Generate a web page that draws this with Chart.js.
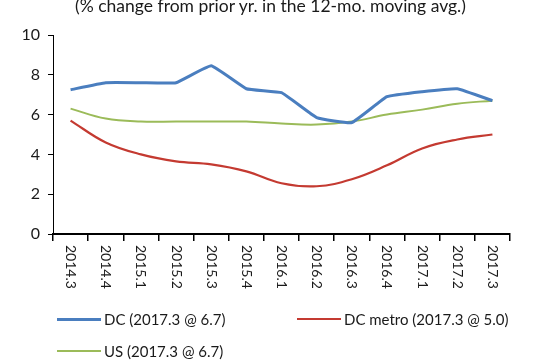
<!DOCTYPE html>
<html>
<head>
<meta charset="utf-8">
<script src="https://cdn.jsdelivr.net/npm/chart.js@4.4.1/dist/chart.umd.min.js"></script>
<style>
  html, body { margin: 0; padding: 0; background: #fff; }
  #wrap { position: relative; width: 533px; height: 362px; overflow: hidden; font-family: Lato, "Open Sans", sans-serif; color: #1a1a1a; }
  #chart { position: absolute; left: 0; top: 0; }
  .title { position: absolute; left: 0; width: 541px; top: -5px; text-align: center; font-size: 17.5px; white-space: nowrap; }
  .legend-item { position: absolute; font-size: 15px; white-space: nowrap; display: flex; align-items: center; }
  .legend-item span.swatch { display: inline-block; width: 44px; margin-right: 3px; }
</style>
</head>
<body>
<div id="wrap">
  <canvas id="chart" width="533" height="362"></canvas>
  <div class="title">(% change from prior yr. in the 12-mo. moving avg.)</div>
  <div id="legend"></div>
</div>
<script>
// quarters shown along the bottom
const quarters = ['2014.3', '2014.4', '2015.1', '2015.2', '2015.3', '2015.4', '2016.1',
  '2016.2', '2016.3', '2016.4', '2017.1', '2017.2', '2017.3'];

const dcValues = [7.25, 7.6, 7.6, 7.6, 8.45, 7.3, 7.1, 5.85, 5.6, 6.9, 7.15, 7.3, 6.7];
const metroValues = [5.7, 4.6, 4.0, 3.65, 3.5, 3.15, 2.55, 2.4, 2.75, 3.45, 4.3, 4.75, 5.0];
const usValues = [6.3, 5.8, 5.65, 5.65, 5.65, 5.65, 5.55, 5.5, 5.65, 6.0, 6.25, 6.55, 6.7];

const seriesNames = ['DC (2017.3 @ 6.7)', 'DC metro (2017.3 @ 5.0)', 'US (2017.3 @ 6.7)'];
const yTicks = [0, 2, 4, 6, 8, 10];

const colors = ['#4a7ebf', '#c43a31', '#9bbb59'];

// legend laid out in two columns
const legendSpots = [
  { left: 57, top: 310 },
  { left: 297, top: 310 },
  { left: 57, top: 342 },
];
const legendEl = document.getElementById('legend');
seriesNames.forEach((name, i) => {
  const item = document.createElement('div');
  item.className = 'legend-item';
  item.style.left = legendSpots[i].left + 'px';
  item.style.top = legendSpots[i].top + 'px';
  const sw = document.createElement('span');
  sw.className = 'swatch';
  sw.style.borderTop = (i === 0 ? 3 : 2) + 'px solid ' + colors[i];
  item.appendChild(sw);
  item.appendChild(document.createTextNode(name));
  legendEl.appendChild(item);
});

// x labels read top-to-bottom, so they're drawn by hand
const verticalLabels = {
  id: 'verticalLabels',
  afterDraw(chart) {
    const ctx = chart.ctx;
    const x = chart.scales.x;
    ctx.save();
    ctx.font = '14px Lato, "Open Sans", sans-serif';
    ctx.fillStyle = '#1a1a1a';
    ctx.textAlign = 'left';
    ctx.textBaseline = 'middle';
    quarters.forEach((q, i) => {
      ctx.save();
      ctx.translate(x.getPixelForValue(i), x.top + 11);
      ctx.rotate(Math.PI / 2);
      ctx.fillText(q, 0, 0);
      ctx.restore();
    });
    ctx.restore();
  }
};

new Chart(document.getElementById('chart'), {
  type: 'line',
  data: {
    labels: quarters,
    datasets: [
      { label: seriesNames[0], data: dcValues, borderColor: colors[0], borderWidth: 3, tension: 0.1 },
      { label: seriesNames[1], data: metroValues, borderColor: colors[1], borderWidth: 2.2, tension: 0.4 },
      { label: seriesNames[2], data: usValues, borderColor: colors[2], borderWidth: 2, tension: 0.4 },
    ],
  },
  options: {
    responsive: false,
    animation: false,
    layout: { padding: { top: 35, right: 23, bottom: 0, left: 0 } },
    elements: { point: { radius: 0 } },
    plugins: {
      legend: { display: false },
      tooltip: { enabled: false },
    },
    scales: {
      x: {
        offset: true,
        grid: { drawOnChartArea: false, offset: true, tickLength: 7, color: '#000', lineWidth: 1.5 },
        border: { color: '#000', width: 2 },
        ticks: { display: false },
        afterFit: (scale) => { scale.height = 128; },
      },
      y: {
        min: 0,
        max: 10,
        afterBuildTicks: (scale) => { scale.ticks = yTicks.map(v => ({ value: v })); },
        grid: { drawOnChartArea: false, tickLength: 5, color: '#000' },
        border: { color: '#000', width: 1, dash: [2, 2] },
        ticks: { color: '#1a1a1a', font: { size: 16, family: 'Lato, "Open Sans", sans-serif' }, padding: 8 },
        afterFit: (scale) => { scale.width = 53; },
      },
    },
  },
  plugins: [verticalLabels],
});
</script>
</body>
</html>
